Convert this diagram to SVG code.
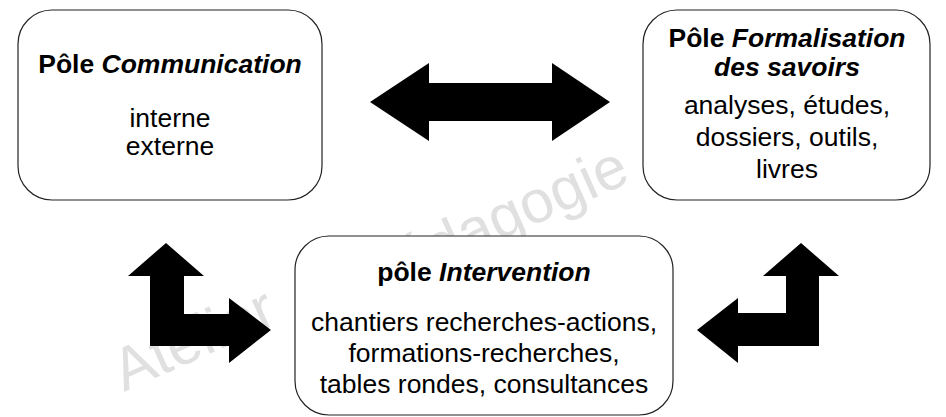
<svg xmlns="http://www.w3.org/2000/svg" width="946" height="417" viewBox="0 0 946 417">
<style>
.box{fill:#fff;stroke:#222;stroke-width:1.2}
.t{font-family:"Liberation Sans",Arial,sans-serif;font-size:26.5px;fill:#000;text-anchor:middle}
.b{font-weight:bold}
.i{font-style:italic}
.arr{fill:#000}
.wm{font-family:"Liberation Sans",Arial,sans-serif;font-size:60px;fill:#e0e0e0}
</style>
<rect width="946" height="417" fill="#fff"/>
<g id="watermark">
<text class="wm" transform="translate(124,392) rotate(-24)">Atelier</text>
<text class="wm" transform="translate(370,298) rotate(-24)">Pédagogie</text>
</g>
<g id="connectors">
<polygon class="arr" points="370,102 429,63 429,83 552,83 552,63 610,102 552,141 552,121 429,121 429,141"/>
<polygon class="arr" points="166,243 204,276 184,276 184,314 229,314 229,298 271,330 229,363 229,346 150,346 150,276 128,276"/>
<polygon class="arr" points="801,243 839,276 819,276 819,346 738,346 738,363 697,330 738,298 738,313 786,313 786,276 763,276"/>
</g>
<g id="communication">
<rect class="box" x="18" y="10" width="304" height="190" rx="34" ry="34"/>
<text class="t" x="170" y="73"><tspan class="b">Pôle </tspan><tspan class="b i">Communication</tspan></text>
<text class="t" x="170" y="127">interne</text>
<text class="t" x="170" y="155">externe</text>
</g>
<g id="formalisation">
<rect class="box" x="643" y="10" width="287" height="190" rx="34" ry="34"/>
<text class="t" x="787" y="47"><tspan class="b">Pôle </tspan><tspan class="b i">Formalisation</tspan></text>
<text class="t b i" x="787" y="76">des savoirs</text>
<text class="t" x="787" y="114">analyses, études,</text>
<text class="t" x="787" y="146">dossiers, outils,</text>
<text class="t" x="787" y="178">livres</text>
</g>
<g id="intervention">
<rect class="box" x="295" y="236" width="378" height="179" rx="34" ry="34"/>
<text class="t" x="484" y="281"><tspan class="b">pôle </tspan><tspan class="b i">Intervention</tspan></text>
<text class="t" x="484" y="331">chantiers recherches-actions,</text>
<text class="t" x="484" y="362">formations-recherches,</text>
<text class="t" x="484" y="393">tables rondes, consultances</text>
</g>
</svg>
